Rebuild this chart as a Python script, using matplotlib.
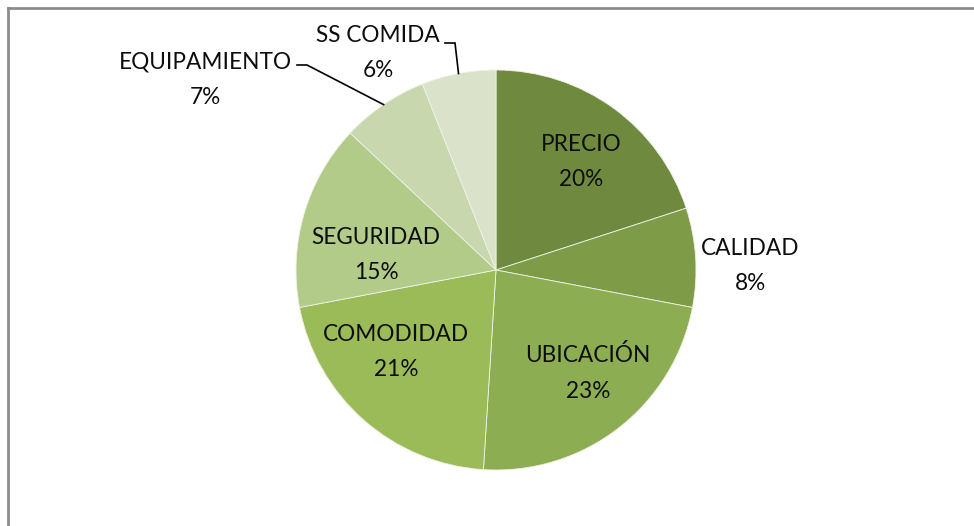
import numpy as np
import matplotlib.pyplot as plt

# Chart data
categories = ['PRECIO', 'CALIDAD', 'UBICACIÓN', 'COMODIDAD', 'SEGURIDAD', 'EQUIPAMIENTO', 'SS COMIDA']
shares = [20, 8, 23, 21, 15, 7, 6]
colors = ['#6F8A3E', '#7E9C48', '#8DAD52', '#9BBB59', '#B3CB88', '#C8D7AE', '#DAE3CA']

# label layout (pixel coords, y from top) - Excel "best fit" placement
label_pos = [(581, 162), (750, 266), (588, 373), (396, 352), (376, 255), (205, 80), (378, 53)]
# leader line starts for the outside labels that need one
leader_start = {5: (297, 65), 6: (445, 43)}

W, H = 974, 526
fig = plt.figure(figsize=(W / 100, H / 100), dpi=100)
ax = fig.add_axes([0, 0, 1, 1])

cx, cy, R = 496, H - 270, 200
wedges, _ = ax.pie(shares, colors=colors, startangle=90, counterclock=False,
                   center=(cx, cy), radius=R, frame=True,
                   wedgeprops=dict(edgecolor='#EEF2E6', linewidth=0.6))
ax.set_xlim(0, W)
ax.set_ylim(0, H)
ax.set_aspect('equal')
ax.axis('off')

font = ['Lato', 'DejaVu Sans']
for i, (cat, val) in enumerate(zip(categories, shares)):
    x, y = label_pos[i]
    ax.text(x, H - y, f'{cat}\n{val}%', ha='center', va='center',
            fontsize=16.3, family=font, color='#0d0d0d', linespacing=1.85)

# leader lines: short horizontal tick then to the wedge middle on the rim
for i, (sx, sy) in leader_start.items():
    w = wedges[i]
    mid = np.deg2rad((w.theta1 + w.theta2) / 2)
    ex, ey = cx + R * np.cos(mid), cy + R * np.sin(mid)
    ax.plot([sx, sx + 10, ex], [H - sy, H - sy, ey], color='black', lw=1.2,
            solid_joinstyle='miter')

# chart frame (only top and left edges visible in the crop)
ax.plot([8, W], [H - 8, H - 8], color='#8c8c8c', lw=2, clip_on=False)
ax.plot([8, 8], [H - 8, 0], color='#8c8c8c', lw=2, clip_on=False)

fig.savefig('out.png', dpi=100)
